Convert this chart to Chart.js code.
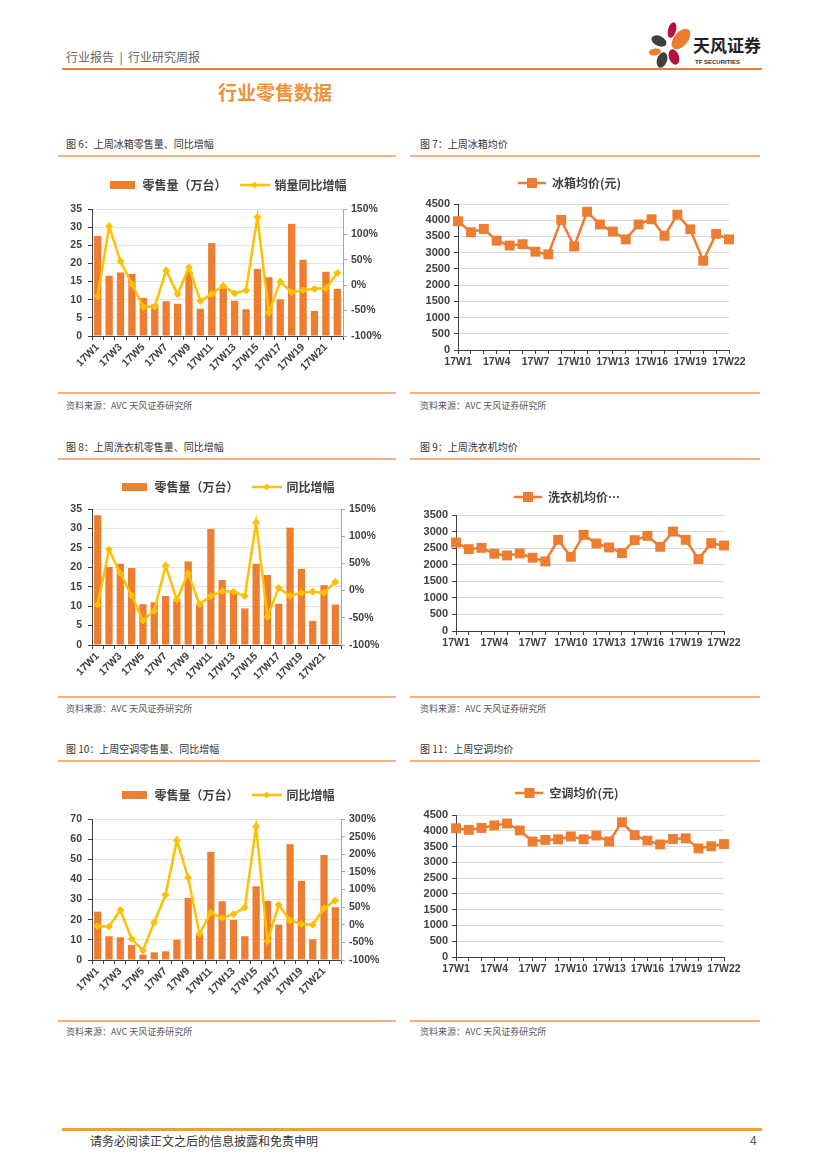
<!DOCTYPE html>
<html lang="zh-CN">
<head>
<meta charset="utf-8">
<title>行业零售数据</title>
<script src="https://cdn.jsdelivr.net/npm/chart.js@4.4.1/dist/chart.umd.min.js"></script>
<style>
  html, body { margin:0; padding:0; background:#fff; }
  body { width:827px; height:1169px; position:relative; overflow:hidden; font-family:"Noto Sans CJK SC", sans-serif; }
  .t { position:absolute; white-space:pre; line-height:16px; }
  .cap { font-size:10px; color:#333; }
  .src { font-size:9px; color:#595959; }
  .hr { position:absolute; height:2px; background:#F4B183; }
  .box { position:absolute; }
</style>
</head>
<body>

<!-- cabecera -->
<div class="t" style="left:66px;top:49px;font-size:12px;color:#666;">行业报告  |  行业研究周报</div>
<div class="hr" style="left:62px;top:68px;width:700px;background:#ED7D31;"></div>
<svg class="box" style="left:644px;top:18px;" width="125" height="52" viewBox="0 0 125 52">
  <ellipse cx="15" cy="23" rx="8" ry="5" transform="rotate(25 15 23)" fill="#3f3f3f"/>
  <ellipse cx="28" cy="12" rx="4" ry="8" transform="rotate(15 28 12)" fill="#b5123a"/>
  <ellipse cx="37" cy="21" rx="7" ry="12" transform="rotate(40 37 21)" fill="#ED7D31"/>
  <ellipse cx="11" cy="34" rx="6" ry="3.5" transform="rotate(-10 11 34)" fill="#ED7D31"/>
  <ellipse cx="18" cy="42" rx="5" ry="8" transform="rotate(20 18 42)" fill="#3f3f3f"/>
  <ellipse cx="30" cy="39" rx="5" ry="8" transform="rotate(-20 30 39)" fill="#b5123a"/>
  <text x="49" y="34" font-family="Noto Sans CJK SC" font-weight="bold" font-size="17" fill="#222">天风证券</text>
  <text x="51" y="46" font-family="Liberation Sans" font-weight="bold" font-size="6" fill="#333">TF SECURITIES</text>
</svg>
<div class="t" style="left:218px;top:81px;line-height:22px;font-size:19px;font-weight:bold;color:#F0913C;">行业零售数据</div>

<!-- figura 6 / 7 -->
<div class="t cap" style="left:66px;top:136px;">图 6：上周冰箱零售量、同比增幅</div>
<div class="t cap" style="left:420px;top:136px;">图 7：上周冰箱均价</div>
<div class="hr" style="left:58px;top:155px;width:338px;"></div>
<div class="hr" style="left:410px;top:155px;width:350px;"></div>
<div class="box" style="left:55px;top:165px;width:345px;height:216px;"><canvas id="c6"></canvas></div>
<div class="box" style="left:410px;top:163px;width:350px;height:207px;"><canvas id="c7"></canvas></div>
<div class="hr" style="left:58px;top:392px;width:338px;"></div>
<div class="hr" style="left:410px;top:392px;width:350px;"></div>
<div class="t src" style="left:66px;top:398px;">资料来源：AVC 天风证券研究所</div>
<div class="t src" style="left:420px;top:398px;">资料来源：AVC 天风证券研究所</div>

<!-- figura 8 / 9 -->
<div class="t cap" style="left:66px;top:439px;">图 8：上周洗衣机零售量、同比增幅</div>
<div class="t cap" style="left:420px;top:439px;">图 9：上周洗衣机均价</div>
<div class="hr" style="left:58px;top:458px;width:338px;"></div>
<div class="hr" style="left:410px;top:458px;width:350px;"></div>
<div class="box" style="left:55px;top:467px;width:345px;height:223px;"><canvas id="c8"></canvas></div>
<div class="box" style="left:410px;top:477px;width:350px;height:174px;"><canvas id="c9"></canvas></div>
<div class="hr" style="left:58px;top:696px;width:338px;"></div>
<div class="hr" style="left:410px;top:696px;width:350px;"></div>
<div class="t src" style="left:66px;top:701px;">资料来源：AVC 天风证券研究所</div>
<div class="t src" style="left:420px;top:701px;">资料来源：AVC 天风证券研究所</div>

<!-- figura 10 / 11 -->
<div class="t cap" style="left:66px;top:741px;">图 10：上周空调零售量、同比增幅</div>
<div class="t cap" style="left:420px;top:741px;">图 11：上周空调均价</div>
<div class="hr" style="left:58px;top:760px;width:338px;"></div>
<div class="hr" style="left:410px;top:760px;width:350px;"></div>
<div class="box" style="left:55px;top:775px;width:345px;height:230px;"><canvas id="c10"></canvas></div>
<div class="box" style="left:410px;top:773px;width:350px;height:204px;"><canvas id="c11"></canvas></div>
<div class="hr" style="left:58px;top:1020px;width:338px;"></div>
<div class="hr" style="left:410px;top:1020px;width:350px;"></div>
<div class="t src" style="left:66px;top:1024px;">资料来源：AVC 天风证券研究所</div>
<div class="t src" style="left:420px;top:1024px;">资料来源：AVC 天风证券研究所</div>

<!-- pie -->
<div class="hr" style="left:62px;top:1128px;width:700px;height:3px;background:#F0A030;"></div>
<div class="t" style="left:90px;top:1133px;font-size:12px;color:#333;">请务必阅读正文之后的信息披露和免责申明</div>
<div class="t" style="left:750px;top:1133px;font-size:12px;color:#555;font-family:'Liberation Sans';">4</div>

<script>
// ===== Datos =====
const weeks = ['17W1','17W2','17W3','17W4','17W5','17W6','17W7','17W8','17W9','17W10','17W11',
               '17W12','17W13','17W14','17W15','17W16','17W17','17W18','17W19','17W20','17W21','17W22'];

// 冰箱
const fridgeSales = [27.6,16.6,17.5,17.1,10.5,8.7,9.6,8.9,17.8,7.5,25.6,13.2,9.7,7.4,18.5,16.2,10.1,30.9,21.0,6.9,17.7,13.0];
const fridgeYoY   = [-22,116,47,2,-43,-42,29,-18,35,-31,-17,-1,-16,-10,134,-54,7,-14,-10,-7,-6,24];
const fridgePrice = [3970,3630,3730,3370,3220,3260,3030,2950,4010,3190,4260,3870,3650,3410,3870,4030,3520,4170,3720,2750,3580,3410];

// 洗衣机
const washerSales = [33.4,20.1,20.9,19.8,10.5,11.0,12.6,11.4,21.5,10.5,29.9,16.7,13.9,9.4,20.9,18.0,10.6,30.2,19.6,6.2,15.4,10.4];
const washerYoY   = [-26,75,32,-9,-55,-37,46,-17,32,-25,-10,-1,-2,-10,125,-48,5,-10,-4,-2,-4,16];
const washerPrice = [2670,2470,2510,2330,2280,2340,2210,2100,2750,2240,2900,2640,2520,2350,2740,2870,2540,3000,2750,2170,2650,2580];

// 空调
const acSales = [24.0,11.8,11.3,7.5,2.7,3.8,4.3,10.1,30.8,13.0,53.7,29.2,19.9,11.8,36.6,29.4,17.6,57.5,39.3,10.3,52.1,26.2];
const acYoY   = [-4,-5,42,-40,-73,7,85,240,133,-26,35,19,30,49,279,-46,56,12,2,0,47,69];
const acPrice = [4080,4030,4090,4170,4230,4010,3660,3710,3730,3820,3730,3850,3660,4270,3860,3690,3570,3740,3760,3440,3510,3580];

// ===== Estilos =====
const ORANGE = '#ED7D31';
const GOLD   = '#FFC000';
const AXIS   = '#404040';
const GRID   = '#e3e3e3';
const TXT    = '#404040';
const tickFont = { family: "'Liberation Sans', sans-serif", size: 10.5, weight: 'bold' };
const legendFont = { family: "'Noto Sans CJK SC', sans-serif", size: 12, weight: 'bold' };

Chart.defaults.font.family = "'Liberation Sans', 'Noto Sans CJK SC', sans-serif";
Chart.defaults.animation = false;

// muestras de leyenda dibujadas a mano
function swatch(w, h, draw) {
  const c = document.createElement('canvas');
  c.width = w; c.height = h;
  draw(c.getContext('2d'), w, h);
  return c;
}
const barSwatch = swatch(25, 8, (g, w, h) => { g.fillStyle = ORANGE; g.fillRect(0, 0, w, h); });
const yoySwatch = swatch(30, 8, (g, w, h) => {
  g.strokeStyle = GOLD; g.lineWidth = 2.5;
  g.beginPath(); g.moveTo(0, h / 2); g.lineTo(w, h / 2); g.stroke();
  g.fillStyle = GOLD;
  g.beginPath(); g.moveTo(w / 2, 0.5); g.lineTo(w / 2 + 3.5, h / 2); g.lineTo(w / 2, h - 0.5); g.lineTo(w / 2 - 3.5, h / 2); g.closePath(); g.fill();
});
const priceSwatch = swatch(28, 12, (g, w, h) => {
  g.strokeStyle = ORANGE; g.lineWidth = 2.5;
  g.beginPath(); g.moveTo(0, h / 2); g.lineTo(w, h / 2); g.stroke();
  g.fillStyle = ORANGE; g.fillRect(w / 2 - 5, h / 2 - 5, 10, 10);
});

// fija la altura de la leyenda para que el área del gráfico caiga donde toca
const legendBox = {
  id: 'legendBox',
  beforeInit(chart, args, opts) {
    const fit = chart.legend.fit;
    chart.legend.fit = function () {
      fit.bind(chart.legend)();
      this.height = opts.h;
    };
  }
};

function legendOpts(swatches) {
  return {
    display: true,
    position: 'top',
    labels: {
      usePointStyle: true,
      pointStyleWidth: 28,
      padding: 14,
      color: TXT,
      font: legendFont,
      sort: (a, b) => a.datasetIndex - b.datasetIndex,
      generateLabels(chart) {
        const items = Chart.defaults.plugins.legend.labels.generateLabels(chart);
        items.forEach(it => { it.pointStyle = swatches[it.datasetIndex]; });
        return items;
      }
    }
  };
}

// ===== Gráfico combinado: barras + línea de variación =====
function comboChart(id, sales, yoy, o) {
  return new Chart(document.getElementById(id), {
    type: 'bar',
    data: {
      labels: weeks,
      datasets: [
        { type: 'bar', label: o.barLabel, data: sales, yAxisID: 'y',
          backgroundColor: ORANGE, categoryPercentage: 1, barPercentage: 0.64, order: 1 },
        { type: 'line', label: o.lineLabel, data: yoy, yAxisID: 'y1',
          borderColor: GOLD, backgroundColor: GOLD, borderWidth: 2.5, tension: 0,
          pointStyle: 'rectRot', pointRadius: 3.5, pointBorderWidth: 1,
          pointBackgroundColor: GOLD, pointBorderColor: GOLD, order: 0 }
      ]
    },
    options: {
      responsive: true,
      maintainAspectRatio: false,
      layout: { padding: 0 },
      plugins: {
        legend: legendOpts([barSwatch, yoySwatch]),
        legendBox: { h: o.legendH },
        tooltip: { enabled: false }
      },
      scales: {
        x: {
          ticks: {
            autoSkip: false, minRotation: 45, maxRotation: 45, padding: 1,
            color: TXT, font: tickFont,
            callback: function (v, i) { return i % 2 === 0 ? this.getLabelForValue(v) : ''; }
          },
          grid: { drawOnChartArea: false, drawTicks: true, tickLength: 4, color: AXIS },
          border: { color: AXIS },
          afterFit(s) { s.height = 45; }
        },
        y: {
          position: 'left', min: 0, max: o.max,
          ticks: { stepSize: o.step, autoSkip: false, padding: 6, color: TXT, font: tickFont, callback: v => String(v) },
          grid: { color: GRID, tickLength: 4, tickColor: AXIS },
          border: { color: AXIS },
          afterFit(s) { s.width = 37; }
        },
        y1: {
          position: 'right', min: -100, max: o.rmax,
          ticks: { stepSize: 50, autoSkip: false, padding: 4, color: TXT, font: tickFont, callback: v => v + '%' },
          grid: { drawOnChartArea: false, tickLength: 4, tickColor: '#a6a6a6' },
          border: { color: '#a6a6a6' },
          afterFit(s) { s.width = o.rightW; }
        }
      }
    },
    plugins: [legendBox]
  });
}

// ===== Gráfico de precio medio =====
function priceChart(id, prices, o) {
  return new Chart(document.getElementById(id), {
    type: 'line',
    data: {
      labels: weeks,
      datasets: [{
        label: o.label, data: prices,
        borderColor: ORANGE, backgroundColor: ORANGE, borderWidth: 2.5, tension: 0,
        pointStyle: 'rect', pointRadius: 7, pointBorderWidth: 0,
        pointBackgroundColor: ORANGE
      }]
    },
    options: {
      responsive: true,
      maintainAspectRatio: false,
      layout: { padding: { left: 0, right: o.padR, top: 0, bottom: 0 } },
      plugins: {
        legend: legendOpts([priceSwatch]),
        legendBox: { h: o.legendH },
        tooltip: { enabled: false }
      },
      scales: {
        x: {
          offset: false,
          ticks: {
            autoSkip: false, maxRotation: 0, padding: 2,
            color: TXT, font: tickFont,
            callback: function (v, i) { return i % 3 === 0 ? this.getLabelForValue(v) : ''; }
          },
          grid: { drawOnChartArea: false, drawTicks: true, tickLength: 4, color: AXIS },
          border: { color: AXIS },
          afterFit(s) { s.height = 20; }
        },
        y: {
          min: 0, max: o.max,
          ticks: { stepSize: 500, autoSkip: false, padding: 4, color: TXT,
                   font: { ...tickFont, size: 11 }, callback: v => String(v) },
          grid: { color: '#d9d9d9', tickLength: 4, tickColor: AXIS },
          border: { color: AXIS },
          afterFit(s) { s.width = o.leftW; }
        }
      }
    },
    plugins: [legendBox]
  });
}

comboChart('c6', fridgeSales, fridgeYoY,
  { barLabel: '零售量（万台）', lineLabel: '销量同比增幅', max: 35, step: 5, rmax: 150, rightW: 57, legendH: 44 });
priceChart('c7', fridgePrice, { label: '冰箱均价(元)', max: 4500, leftW: 48, padR: 31, legendH: 41 });

comboChart('c8', washerSales, washerYoY,
  { barLabel: '零售量（万台）', lineLabel: '同比增幅', max: 35, step: 5, rmax: 150, rightW: 59, legendH: 42 });
priceChart('c9', washerPrice, { label: '洗衣机均价…', max: 3500, leftW: 46, padR: 36, legendH: 38 });

comboChart('c10', acSales, acYoY,
  { barLabel: '零售量（万台）', lineLabel: '同比增幅', max: 70, step: 10, rmax: 300, rightW: 59, legendH: 44 });
priceChart('c11', acPrice, { label: '空调均价(元)', max: 4500, leftW: 46, padR: 36, legendH: 42 });
</script>
</body>
</html>
